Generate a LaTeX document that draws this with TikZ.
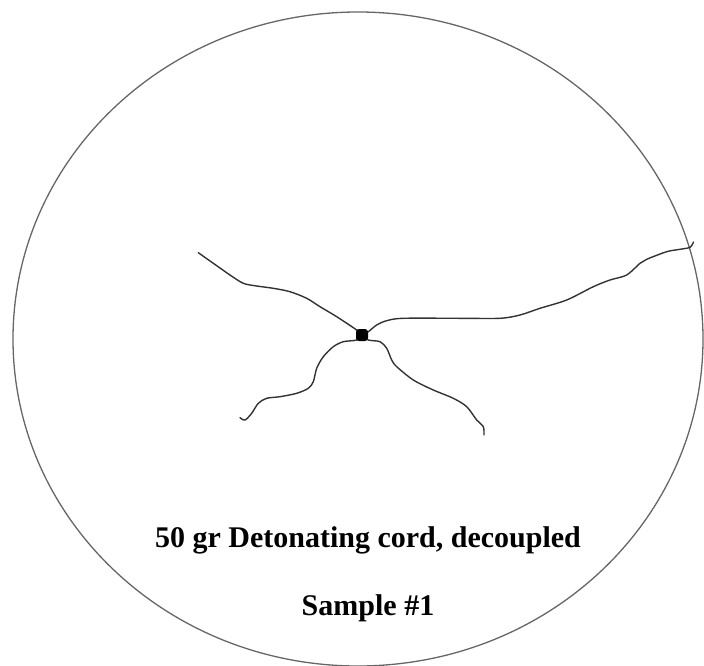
\documentclass[tikz,border=0pt]{standalone}
\usepackage{fontspec}
\setmainfont{Liberation Serif}
\usetikzlibrary{positioning}

\tikzset{
  rim/.style={draw=black!60,line width=1.3pt},
  crack/.style={draw=black!80,line width=1.4pt,line join=round,line cap=round},
  charge/.style={rectangle,rounded corners=3pt,fill=black,inner sep=0pt,minimum size=12pt},
  caption/.style={font=\fontsize{30}{34}\selectfont\bfseries,inner sep=0pt}
}

\begin{document}
\begin{tikzpicture}[x=1pt,y=-1pt]
\useasboundingbox (0,0) rectangle (704,666);
%\draw[help lines,step=50] (0,0) grid (704,666);

% sample outline
\draw[rim] (358,339) ellipse [x radius=345, y radius=327];

\coordinate (hole) at (362,335);

% cracks running out from the hole
\draw[crack] plot[smooth,tension=0.5] coordinates {(hole) (356.7,330) (336.7,316.7) (320,306.7) (306.7,298.3)
  (290,291.7) (273.3,288.3) (256.7,286) (243.3,283.3) (230,275) (213.3,263.3) (198.3,252.7)};
\draw[crack] plot[smooth,tension=0.5] coordinates {(hole) (368.3,331.7) (376.7,325) (386.7,320.7) (403.3,318.3)
  (460,318.3) (500,318.3) (520,315) (540,308.3) (566.7,300) (593.3,286.7) (610,280) (626.7,275)
  (640,263.3) (646.7,259.3) (666.7,251.7) (680,249.3) (690,247.3) (693.5,242)};
\draw[crack] plot[smooth,tension=0.5] coordinates {(hole) (356.7,340) (343.3,341.7) (333.3,346.7) (323.3,356.7)
  (316.7,368.3) (313.3,381.7) (308.3,388.3) (296.7,393.3) (280,396.7) (266.7,398.3) (258.3,403.3)
  (251.7,413.3) (245,420) (240,417.7)};
\draw[crack] plot[smooth,tension=0.5] coordinates {(hole) (368.3,340) (380,341.7) (386.7,348.3) (391.7,360)
  (396.7,366.7) (413.3,380) (433.3,390) (453.3,398.3) (466.7,406.7) (476.7,420) (483.3,426.7) (484,435)};

% the charge, on top of the crack ends
\node[charge] (plug) at (hole) {};

% labels
\node[caption] (title) at (368,540) {50 gr Detonating cord, decoupled};
\node[caption,below=68pt of title.base,anchor=base] (sample) {Sample \#1};
\end{tikzpicture}
\end{document}
